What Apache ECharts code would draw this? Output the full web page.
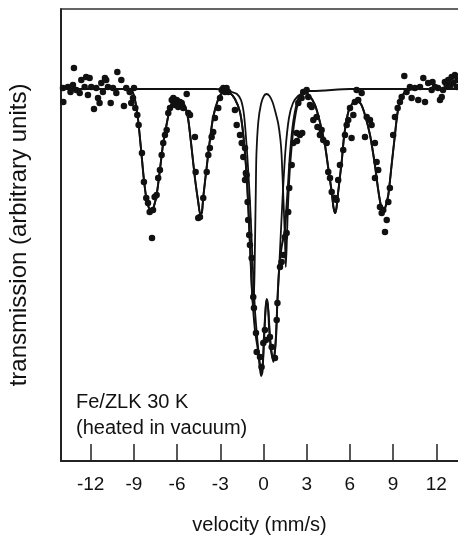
<!DOCTYPE html>
<html>
<head>
<meta charset="utf-8">
<script src="https://cdn.jsdelivr.net/npm/echarts@6/dist/echarts.min.js"></script>
<style>
html,body{margin:0;padding:0;background:#fff;}
#chart{width:458px;height:536px;}
</style>
</head>
<body>
<div id="chart"></div>
<script>
// ---- tick labels ----
const velocityTicks = [-12, -9, -6, -3, 0, 3, 6, 9, 12];

// ---- measured points (velocity mm/s, relative transmission) ----
const measuredV = [-13.92,-13.90,-13.58,-13.40,-13.23,-13.16,-13.00,-12.76,-12.65,-12.42,-12.31,-12.19,-12.07,-11.96,-11.77,-11.61,-11.49,-11.38,-11.26,-11.15,-11.01,-10.92,-10.80,-10.61,-10.45,-10.22,-10.15,-9.87,-9.69,-9.53,-9.29,-9.18,-9.06,-8.99,-8.90,-8.76,-8.67,-8.44,-8.30,-8.14,-8.02,-7.90,-7.74,-7.67,-7.56,-7.42,-7.31,-7.19,-7.07,-6.96,-6.84,-6.72,-6.61,-6.49,-6.37,-6.26,-6.15,-6.03,-5.92,-5.80,-5.68,-5.57,-5.33,-5.22,-5.10,-4.76,-4.71,-4.53,-4.41,-4.18,-3.94,-3.83,-3.72,-3.60,-3.49,-3.37,-3.14,-3.02,-2.90,-2.79,-2.67,-2.56,-2.44,-1.98,-1.86,-1.63,-1.51,-1.40,-1.28,-1.28,-1.22,-1.17,-1.10,-1.06,-0.99,-0.94,-0.82,-0.71,-0.66,-0.52,-0.47,-0.24,-0.13,-0.01,0.10,0.17,0.45,0.57,0.80,0.92,0.97,1.15,1.26,1.38,1.49,1.61,1.72,1.79,1.96,2.07,2.31,2.33,2.53,2.69,2.42,2.65,2.76,3.00,3.11,3.23,3.35,3.46,3.69,3.75,3.92,4.04,4.15,4.39,4.50,4.62,4.74,4.97,5.08,5.19,5.31,5.54,5.66,5.78,5.89,6.01,6.12,6.24,6.35,6.47,6.58,6.82,7.05,7.17,7.40,7.51,7.74,7.74,7.86,7.97,8.09,8.21,8.32,8.44,8.56,8.67,8.78,9.01,9.13,9.32,9.48,9.60,9.78,9.94,10.17,10.29,10.52,10.75,10.87,11.10,11.22,11.44,11.68,11.74,11.91,12.12,12.26,12.38,12.47,12.60,12.72,12.83,12.95,13.07,13.18,13.30,13.42,13.47];
const measuredT = [1.001,0.987,1.002,0.997,1.004,1.021,0.999,0.996,1.009,1.002,1.012,0.994,1.011,1.002,0.980,1.001,0.991,0.986,1.006,0.997,1.011,1.009,1.002,0.986,1.001,0.996,1.017,1.009,0.983,1.001,0.997,0.986,0.991,1.001,0.981,0.974,0.964,0.936,0.907,0.891,0.886,0.877,0.851,0.879,0.892,0.894,0.911,0.919,0.934,0.946,0.954,0.959,0.976,0.981,0.989,0.991,0.984,0.989,0.982,0.987,0.986,0.981,0.995,0.976,0.974,0.952,0.917,0.871,0.872,0.891,0.917,0.934,0.941,0.952,0.957,0.971,0.981,0.991,0.999,1.001,0.997,1.001,0.997,0.979,0.964,0.954,0.946,0.932,0.941,0.909,0.916,0.914,0.887,0.869,0.854,0.844,0.831,0.792,0.781,0.756,0.737,0.732,0.722,0.746,0.759,0.749,0.752,0.742,0.731,0.769,0.786,0.822,0.827,0.834,0.852,0.856,0.877,0.901,0.924,0.946,0.956,0.948,0.954,0.956,0.986,0.991,0.997,0.999,0.992,0.984,0.982,0.969,0.972,0.962,0.954,0.959,0.949,0.946,0.917,0.911,0.897,0.891,0.889,0.909,0.924,0.939,0.954,0.964,0.969,0.981,0.951,0.974,0.987,0.999,0.989,0.996,0.952,0.972,0.969,0.964,0.946,0.911,0.927,0.919,0.882,0.876,0.879,0.857,0.869,0.887,0.901,0.954,0.972,0.981,0.987,0.992,1.013,0.997,1.002,0.991,1.001,0.989,1.002,1.011,0.987,1.006,0.999,1.007,1.002,1.001,0.989,0.992,0.999,1.007,1.004,1.009,1.003,1.012,1.006,1.014,1.002,1.009];

// ---- total fit curve ----
const totalV = [-14.06,-11.35,-9.41,-9.13,-8.92,-8.72,-8.51,-8.30,-8.09,-7.88,-7.74,-7.60,-7.42,-7.19,-6.98,-6.72,-6.49,-6.28,-6.04,-5.80,-5.45,-5.22,-4.99,-4.76,-4.53,-4.38,-4.27,-4.18,-3.94,-3.72,-3.49,-3.14,-2.88,-2.67,-2.33,-1.98,-1.63,-1.40,-1.17,-1.06,-0.94,-0.80,-0.59,-0.36,-0.17,-0.07,0.03,0.14,0.22,0.31,0.40,0.52,0.68,0.80,0.90,0.96,1.10,1.26,1.49,1.61,1.72,1.84,2.07,2.40,2.67,2.88,3.16,3.58,3.92,4.27,4.50,4.74,4.86,4.97,5.07,5.19,5.43,5.61,5.89,6.15,6.47,6.77,7.05,7.40,7.74,7.97,8.16,8.32,8.47,8.67,8.90,9.13,9.32,9.60,9.83,10.06,10.52,13.51];
const totalT = [1.000,1.000,1.000,0.998,0.989,0.971,0.941,0.909,0.887,0.879,0.878,0.883,0.894,0.919,0.944,0.965,0.981,0.988,0.990,0.989,0.983,0.969,0.941,0.911,0.887,0.874,0.877,0.892,0.922,0.949,0.972,0.990,0.996,0.997,0.996,0.990,0.977,0.954,0.914,0.884,0.846,0.799,0.759,0.737,0.713,0.717,0.749,0.779,0.790,0.784,0.759,0.739,0.730,0.739,0.759,0.786,0.822,0.842,0.859,0.884,0.907,0.934,0.967,0.990,0.995,0.996,0.994,0.984,0.967,0.944,0.921,0.897,0.882,0.876,0.881,0.897,0.927,0.954,0.977,0.985,0.988,0.985,0.974,0.954,0.924,0.899,0.883,0.878,0.882,0.894,0.924,0.954,0.977,0.992,0.997,0.999,1.000,1.000];

// ---- sextet component ----
const sextetV = [-14.06,-11.35,-9.41,-9.13,-8.92,-8.72,-8.51,-8.30,-8.09,-7.88,-7.74,-7.60,-7.42,-7.19,-6.98,-6.72,-6.49,-6.28,-6.04,-5.80,-5.45,-5.22,-4.99,-4.76,-4.53,-4.38,-4.27,-4.18,-3.94,-3.72,-3.49,-3.14,-2.88,-2.67,-2.33,-1.98,-1.63,-1.40,-1.17,-1.06,-0.94,-0.83,-0.73,-0.64,-0.59,-0.53,-0.49,-0.36,-0.17,0.03,0.22,0.42,0.63,0.83,1.03,1.18,1.26,1.39,1.49,1.55,1.61,1.68,1.77,1.91,2.12,2.40,2.67,2.88,3.16,3.58,3.92,4.27,4.50,4.74,4.86,4.97,5.07,5.19,5.43,5.61,5.89,6.15,6.47,6.77,7.05,7.40,7.74,7.97,8.16,8.32,8.47,8.67,8.90,9.13,9.32,9.60,9.83,10.06,10.52,13.51];
const sextetT = [1.000,1.000,1.000,0.998,0.989,0.971,0.941,0.909,0.887,0.879,0.878,0.883,0.894,0.919,0.944,0.965,0.981,0.988,0.990,0.989,0.983,0.969,0.941,0.911,0.887,0.874,0.877,0.892,0.922,0.949,0.972,0.990,0.996,0.997,0.996,0.990,0.977,0.954,0.914,0.884,0.846,0.809,0.784,0.804,0.844,0.899,0.934,0.967,0.985,0.993,0.995,0.993,0.987,0.977,0.965,0.949,0.934,0.889,0.850,0.822,0.842,0.874,0.904,0.934,0.964,0.986,0.994,0.996,0.994,0.984,0.967,0.944,0.921,0.897,0.882,0.876,0.881,0.897,0.927,0.954,0.977,0.985,0.988,0.985,0.974,0.954,0.924,0.899,0.883,0.878,0.882,0.894,0.924,0.954,0.977,0.992,0.997,0.999,1.000,1.000];

// ---- doublet component ----
const doubletV = [-14.06,-3.37,-2.67,-2.19,-1.84,-1.56,-1.35,-1.15,-0.94,-0.76,-0.59,-0.42,-0.28,-0.14,-0.03,0.07,0.17,0.24,0.35,0.45,0.59,0.69,0.80,0.90,1.01,1.15,1.32,1.53,1.77,2.05,2.40,2.74,3.09,3.44,6.01,13.51];
const doubletT = [1.000,1.000,0.999,0.997,0.995,0.989,0.974,0.939,0.889,0.829,0.779,0.749,0.729,0.717,0.729,0.759,0.784,0.789,0.777,0.754,0.734,0.727,0.737,0.764,0.799,0.839,0.889,0.939,0.971,0.986,0.993,0.996,0.998,0.998,1.000,1.000];

function zip(a, b) { return a.map((v, i) => [v, b[i]]); }

const FONT = '"Liberation Sans", Arial, Helvetica, sans-serif';
const INK = '#111';
const xMin = -14.06, xMax = 13.51;

const chart = echarts.init(document.getElementById('chart'), null, {renderer: 'canvas'});
const lineBase = {type: 'line', showSymbol: false, smooth: 0.25, silent: true};

chart.setOption({
  animation: false,
  backgroundColor: '#fff',
  grid: {left: 61, right: 0, top: 9, bottom: 75, containLabel: false, outerBoundsMode: 'none'},
  xAxis: [{
    type: 'value', position: 'bottom', min: xMin, max: xMax,
    axisLine: {show: true, onZero: false, lineStyle: {color: '#222', width: 2}},
    axisTick: {show: true, inside: true, length: 17, customValues: velocityTicks, lineStyle: {color: '#222', width: 1.5}},
    axisLabel: {show: true, customValues: velocityTicks, margin: 14, fontSize: 19, color: INK, fontFamily: FONT},
    splitLine: {show: false},
    name: 'velocity (mm/s)', nameLocation: 'middle', nameGap: 54,
    nameTextStyle: {fontSize: 20, color: INK, fontFamily: FONT}
  }, {
    type: 'value', position: 'top', min: xMin, max: xMax,
    axisLine: {show: true, onZero: false, lineStyle: {color: '#333', width: 1.5}},
    axisTick: {show: false}, axisLabel: {show: false}, splitLine: {show: false}
  }],
  yAxis: {
    type: 'value', min: 0.628, max: 1.080,
    axisLine: {show: true, onZero: false, lineStyle: {color: '#222', width: 2}},
    axisTick: {show: false}, axisLabel: {show: false}, splitLine: {show: false},
    name: 'transmission (arbitrary units)', nameLocation: 'middle', nameGap: 30,
    nameTextStyle: {fontSize: 24, color: INK, fontFamily: FONT}
  },
  graphic: [
    {type: 'text', left: 76, top: 392, style: {text: 'Fe/ZLK 30 K', font: '20px ' + FONT, fill: INK}},
    {type: 'text', left: 76, top: 418, style: {text: '(heated in vacuum)', font: '20px ' + FONT, fill: INK}}
  ],
  series: [
    Object.assign({}, lineBase, {name: 'doublet', data: zip(doubletV, doubletT), lineStyle: {color: INK, width: 1.8}}),
    Object.assign({}, lineBase, {name: 'sextet', data: zip(sextetV, sextetT), lineStyle: {color: INK, width: 1.8}}),
    Object.assign({}, lineBase, {name: 'total', data: zip(totalV, totalT), lineStyle: {color: INK, width: 2}}),
    {type: 'scatter', name: 'measured', data: zip(measuredV, measuredT), symbol: 'circle', symbolSize: 6.5,
     itemStyle: {color: INK, opacity: 1}, silent: true}
  ]
});
</script>
</body>
</html>
